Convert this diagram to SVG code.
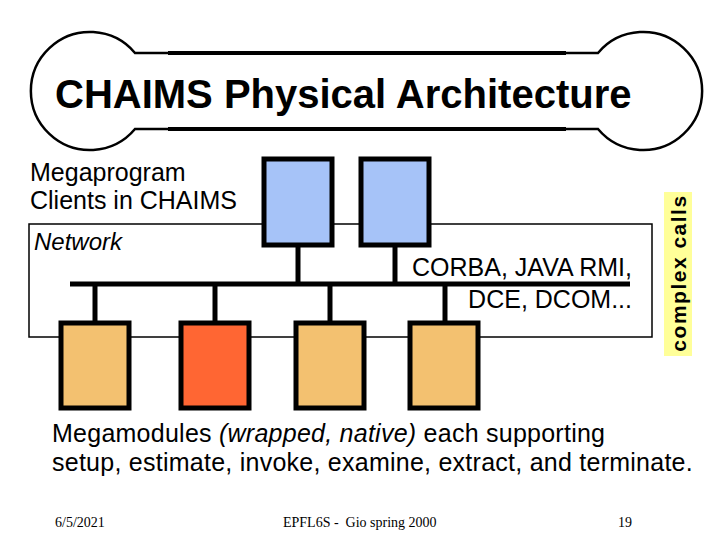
<svg xmlns="http://www.w3.org/2000/svg" width="720" height="540" viewBox="0 0 720 540">
<style>
.t{font-family:"Liberation Sans",Arial,sans-serif;fill:#000}
.f{font-family:"Liberation Serif","Times New Roman",serif;font-size:14px;fill:#000}
.box{stroke:#000;stroke-width:5}
.client{fill:#A6C3F8}
.mod{fill:#F3C170}
.modn{fill:#FF6633}
.wire{stroke:#000;stroke-width:5;fill:none}
</style>
<rect width="720" height="540" fill="#fff"/>
<g id="title">
<path d="M135,53 A59,59 0 1 0 135,129 L598,129 A59,59 0 1 0 598,53 Z" fill="#fff" stroke="#000" stroke-width="2.5"/>
<line x1="168" y1="53" x2="566" y2="53" stroke="#000" stroke-width="4"/>
<line x1="168" y1="129" x2="566" y2="129" stroke="#000" stroke-width="4"/>
<text class="t" x="55" y="108" font-size="40" font-weight="bold">CHAIMS Physical Architecture</text>
</g>
<g id="clients-label">
<text class="t" x="30" y="181" font-size="25">Megaprogram</text>
<text class="t" x="30" y="209" font-size="25">Clients in CHAIMS</text>
</g>
<g id="network">
<rect x="29" y="224" width="623" height="113" fill="#fff" stroke="#000" stroke-width="1.5"/>
<text class="t" x="34" y="250" font-size="24" font-style="italic">Network</text>
<text class="t" x="632" y="276" font-size="25" text-anchor="end">CORBA, JAVA RMI,</text>
<text class="t" x="632" y="308" font-size="25" text-anchor="end">DCE, DCOM...</text>
</g>
<g id="connectors">
<line class="wire" x1="70" y1="284" x2="630" y2="284"/>
<line class="wire" x1="298" y1="244" x2="298" y2="284"/>
<line class="wire" x1="395" y1="244" x2="395" y2="284"/>
<line class="wire" x1="95" y1="284" x2="95" y2="322"/>
<line class="wire" x1="215" y1="284" x2="215" y2="322"/>
<line class="wire" x1="330" y1="284" x2="330" y2="322"/>
<line class="wire" x1="445" y1="284" x2="445" y2="322"/>
</g>
<g id="client1"><rect class="box client" x="264" y="159" width="68" height="86"/></g>
<g id="client2"><rect class="box client" x="361" y="159" width="68" height="86"/></g>
<g id="module1"><rect class="box mod" x="61" y="323" width="68" height="85"/></g>
<g id="module2"><rect class="box modn" x="181" y="323" width="68" height="85"/></g>
<g id="module3"><rect class="box mod" x="296" y="323" width="68" height="85"/></g>
<g id="module4"><rect class="box mod" x="410" y="323" width="68" height="85"/></g>
<g id="complex-calls">
<rect x="664" y="192" width="28" height="164" fill="#FFFF99"/>
<text class="t" transform="translate(686,273) rotate(-90)" font-size="21" font-weight="bold" text-anchor="middle" letter-spacing="1.5">complex calls</text>
</g>
<g id="megamodules-label">
<text class="t" x="52" y="442" font-size="25" letter-spacing="0.25">Megamodules <tspan font-style="italic">(wrapped, native)</tspan> each supporting</text>
<text class="t" x="52" y="471" font-size="25" letter-spacing="0.25">setup, estimate, invoke, examine, extract, and terminate.</text>
</g>
<g id="footer">
<text class="f" x="55" y="527">6/5/2021</text>
<text class="f" x="283" y="527" xml:space="preserve">EPFL6S -  Gio spring 2000</text>
<text class="f" x="618" y="527">19</text>
</g>
</svg>
